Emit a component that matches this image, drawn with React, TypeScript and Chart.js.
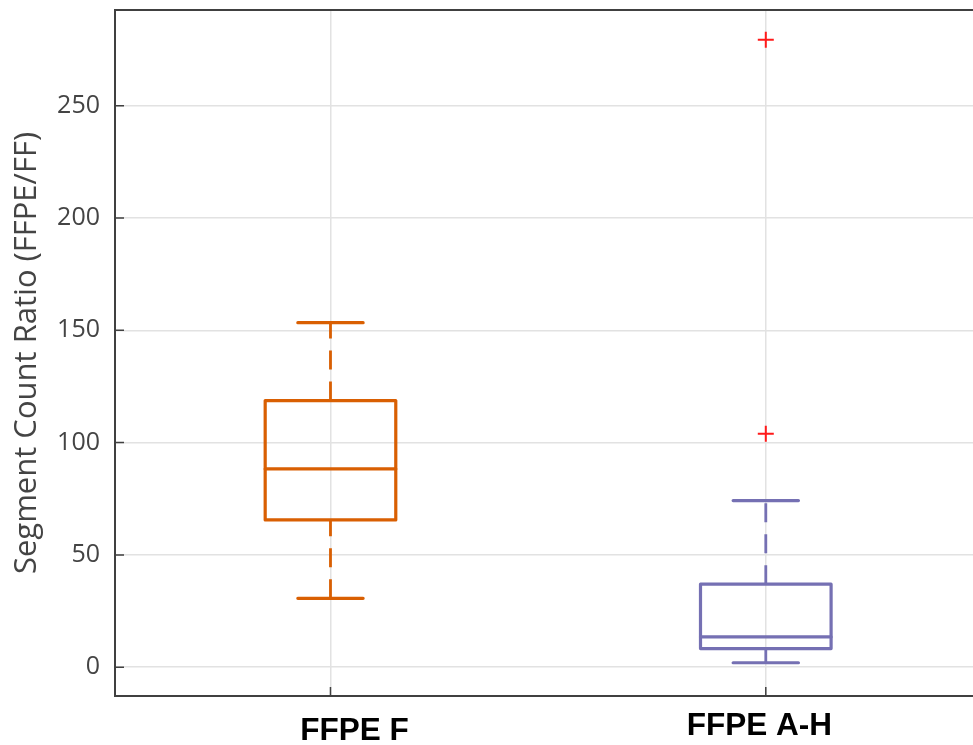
import React, { useEffect, useRef } from "react";
import { Chart, registerables } from "chart.js";

Chart.register(...registerables);

// ---- data ----
const categories = ["FFPE F", "FFPE A-H"];
const whiskerLow = [30.7, 2.0];
const q1 = [65.6, 8.3];
const median = [88.3, 13.5];
const q3 = [118.7, 37.0];
const whiskerHigh = [153.4, 74.2];
const boxColors = ["#D95F02", "#7570B3"];
const outlierCategory = [2, 2];
const outlierValues = [103.9, 279.4];
const yTicks = [0, 50, 100, 150, 200, 250];

// ---- style / layout ----
const AXIS_COLOR = "#404040";
const labelDx = [24, -6.5]; // pixel nudges of the category labels, as in the original
const labelBaseline = [43.5, 39]; // baseline distance below the axis line

const boxPlugin = {
  id: "boxPlot",
  beforeDatasetsDraw(chart: any) {
    const { ctx, scales } = chart;
    const xs = scales.x;
    const ys = scales.y;
    ctx.save();
    categories.forEach((_, i) => {
      const c = i + 1;
      const xc = xs.getPixelForValue(c);
      const xl = xs.getPixelForValue(c - 0.15);
      const xr = xs.getPixelForValue(c + 0.15);
      const cl = xs.getPixelForValue(c - 0.075);
      const cr = xs.getPixelForValue(c + 0.075);
      const yLo = ys.getPixelForValue(whiskerLow[i]);
      const yQ1 = ys.getPixelForValue(q1[i]);
      const yMed = ys.getPixelForValue(median[i]);
      const yQ3 = ys.getPixelForValue(q3[i]);
      const yHi = ys.getPixelForValue(whiskerHigh[i]);
      ctx.strokeStyle = boxColors[i];
      ctx.lineCap = "butt";
      // whiskers (dashed)
      ctx.lineWidth = 2.8;
      ctx.setLineDash([19, 12]);
      ctx.beginPath();
      ctx.moveTo(xc, yLo);
      ctx.lineTo(xc, yQ1);
      ctx.stroke();
      ctx.beginPath();
      ctx.moveTo(xc, yQ3);
      ctx.lineTo(xc, yHi);
      ctx.stroke();
      ctx.setLineDash([]);
      // caps
      ctx.lineWidth = 3.2;
      ctx.lineCap = "round";
      ctx.beginPath();
      ctx.moveTo(cl, yLo);
      ctx.lineTo(cr, yLo);
      ctx.moveTo(cl, yHi);
      ctx.lineTo(cr, yHi);
      ctx.stroke();
      // box
      ctx.lineJoin = "round";
      ctx.strokeRect(xl, yQ3, xr - xl, yQ1 - yQ3);
      // median
      ctx.beginPath();
      ctx.moveTo(xl, yMed);
      ctx.lineTo(xr, yMed);
      ctx.stroke();
    });
    ctx.restore();
  },
  afterDraw(chart: any) {
    const { ctx, chartArea, scales } = chart;
    ctx.save();
    ctx.strokeStyle = AXIS_COLOR;
    // top border
    ctx.lineWidth = 2;
    ctx.beginPath();
    ctx.moveTo(chartArea.left - 1, chartArea.top);
    ctx.lineTo(chartArea.right, chartArea.top);
    ctx.stroke();
    // inward ticks
    ctx.lineWidth = 1.5;
    ctx.beginPath();
    scales.y.ticks.forEach((t: any) => {
      const y = scales.y.getPixelForValue(t.value);
      ctx.moveTo(chartArea.left, y);
      ctx.lineTo(chartArea.left + 9, y);
    });
    scales.x.ticks.forEach((t: any) => {
      const x = scales.x.getPixelForValue(t.value);
      ctx.moveTo(x, chartArea.bottom);
      ctx.lineTo(x, chartArea.bottom - 9);
    });
    ctx.stroke();
    // category labels
    ctx.fillStyle = "#000";
    ctx.font = "bold 31.5px 'Liberation Sans', Arial, sans-serif";
    ctx.textAlign = "center";
    ctx.textBaseline = "alphabetic";
    categories.forEach((name, i) => {
      const x = scales.x.getPixelForValue(i + 1) + labelDx[i];
      ctx.fillText(name, x, chartArea.bottom + labelBaseline[i]);
    });
    ctx.restore();
  },
};

export default function App() {
  const ref = useRef<HTMLCanvasElement | null>(null);
  useEffect(() => {
    if (!ref.current) return;
    const chart = new Chart(ref.current, {
      type: "scatter",
      data: {
        datasets: [
          {
            label: "Outliers",
            data: outlierValues.map((v, i) => ({ x: outlierCategory[i], y: v })),
            pointStyle: "cross",
            radius: 8,
            borderColor: "#ff1a1a",
            backgroundColor: "#ff1a1a",
            borderWidth: 2,
          },
        ],
      },
      options: {
        animation: false,
        responsive: false,
        layout: { autoPadding: false, padding: { top: 10, left: 0, right: 0, bottom: 0 } },
        plugins: { legend: { display: false }, tooltip: { enabled: false } },
        scales: {
          x: {
            type: "linear",
            min: 0.505,
            max: 2.476,
            afterBuildTicks: (s: any) => {
              s.ticks = categories.map((_, i) => ({ value: i + 1 }));
            },
            afterFit: (s: any) => {
              s.height = 49;
              s.paddingLeft = 0;
              s.paddingRight = 0;
            },
            grid: { color: "#e2e2e2", lineWidth: 1.5, drawTicks: false },
            border: { color: AXIS_COLOR, width: 2 },
            ticks: { display: false },
          },
          y: {
            min: -12.8,
            max: 292.6,
            afterBuildTicks: (s: any) => {
              s.ticks = yTicks.map((v) => ({ value: v }));
            },
            afterFit: (s: any) => {
              s.width = 115;
              s.paddingTop = 0;
              s.paddingBottom = 0;
            },
            grid: { color: "#e2e2e2", lineWidth: 1.5, drawTicks: false },
            border: { color: AXIS_COLOR, width: 2 },
            ticks: {
              padding: 15,
              color: "#444",
              font: { family: "'Open Sans'", size: 25 },
            },
            title: {
              display: true,
              text: "Segment Count Ratio (FFPE/FF)",
              color: "#444",
              font: { family: "'Open Sans'", size: 31, weight: "normal" },
              padding: { top: 9, bottom: 0 },
            },
          },
        },
      },
      plugins: [boxPlugin],
    });
    return () => chart.destroy();
  }, []);
  return (
    <div style={{ position: "fixed", left: 0, top: 0, width: 973, height: 745, background: "#fff" }}>
      <canvas ref={ref} width={973} height={745} style={{ display: "block" }} />
    </div>
  );
}
